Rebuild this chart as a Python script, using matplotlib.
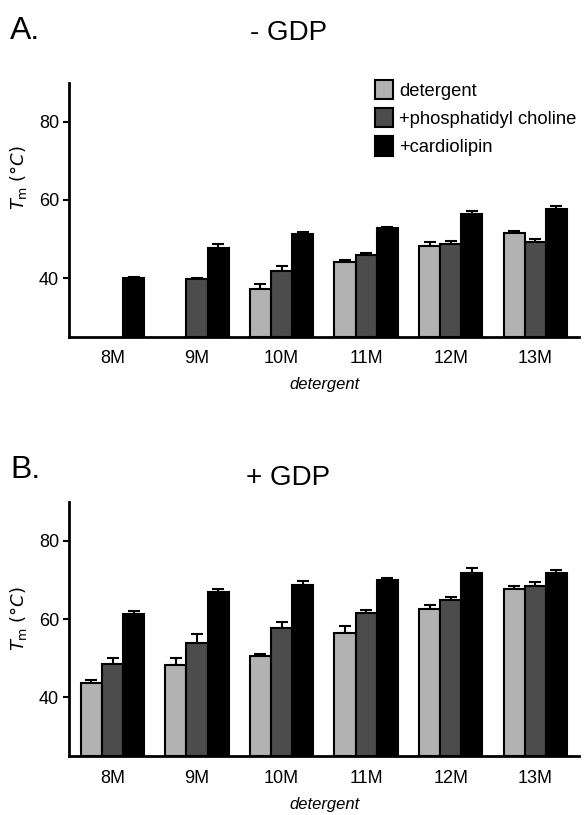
import numpy as np
import matplotlib
matplotlib.use("Agg")
import matplotlib.pyplot as plt
from matplotlib.patches import Patch

plt.rcParams['font.family'] = ['Liberation Sans', 'DejaVu Sans']

detergents = ['8M', '9M', '10M', '11M', '12M', '13M']
series = ['detergent', '+phosphatidyl choline', '+cardiolipin']
colors = ['#b2b2b2', '#4c4c4c', '#000000']

# - GDP (nan = not measured)
a_det = [np.nan, np.nan, 37.2, 44.1, 48.1, 51.4]
a_det_err = [0, 0, 1.3, 0.6, 1.0, 0.7]
a_pc = [np.nan, 39.7, 41.9, 45.9, 48.7, 49.1]
a_pc_err = [0, 0.3, 1.2, 0.6, 0.8, 0.9]
a_card = [40.1, 47.8, 51.2, 52.8, 56.4, 57.6]
a_card_err = [0.2, 0.9, 0.7, 0.2, 0.7, 0.8]

# + GDP
b_det = [43.6, 48.3, 50.5, 56.5, 62.6, 67.8]
b_det_err = [0.7, 1.7, 0.5, 1.7, 1.0, 0.7]
b_pc = [48.4, 53.9, 57.8, 61.6, 65.0, 68.4]
b_pc_err = [1.7, 2.2, 1.5, 0.8, 0.6, 1.2]
b_card = [61.2, 66.8, 68.7, 70.1, 71.9, 71.9]
b_card_err = [0.8, 1.0, 1.0, 0.5, 1.1, 0.7]


def draw(ax, vals, errs, ylab_y):
    x = np.arange(len(detergents))
    w = 0.25
    for i, (v, e) in enumerate(zip(vals, errs)):
        v = np.array(v, dtype=float)
        e = np.array(e, dtype=float)
        ok = ~np.isnan(v)
        pos = x[ok] + (i - 1) * w
        ax.bar(pos, v[ok] - 25, width=w, bottom=25, color=colors[i],
               edgecolor='black', linewidth=1.5, zorder=2)
        ax.errorbar(pos, v[ok], yerr=[np.zeros(ok.sum()), e[ok]], fmt='none',
                    ecolor='black', elinewidth=1.5, capsize=4, capthick=1.5, zorder=1)
    ax.set_xlim(-0.51, 5.52)
    ax.set_ylim(25, 90)
    ax.set_yticks([40, 60, 80])
    ax.set_xticks(x)
    ax.set_xticklabels(detergents, fontsize=13)
    ax.tick_params(axis='y', labelsize=13, length=4, width=1.5)
    ax.tick_params(axis='x', length=0, pad=10)
    for s in ['top', 'right']:
        ax.spines[s].set_visible(False)
    for s in ['left', 'bottom']:
        ax.spines[s].set_linewidth(2)
    ax.set_xlabel('detergent', fontsize=12, style='italic', labelpad=7)
    ax.set_ylabel(r'$T_{\rm m}$ $(°C)$', fontsize=13)
    ax.yaxis.set_label_coords(-0.08, ylab_y)


fig = plt.figure(figsize=(5.88, 8.15), dpi=100)
ax1 = fig.add_axes([0.118, 0.587, 0.867, 0.3115])
ax2 = fig.add_axes([0.118, 0.0724, 0.867, 0.312])

draw(ax1, [a_det, a_pc, a_card], [a_det_err, a_pc_err, a_card_err], 0.625)
draw(ax2, [b_det, b_pc, b_card], [b_det_err, b_pc_err, b_card_err], 0.54)

handles = [Patch(facecolor=c, edgecolor='black', linewidth=1.5) for c in colors]
ax1.legend(handles, series, loc='upper left', bbox_to_anchor=(0.586, 1.04),
           frameon=False, fontsize=13.2, handlelength=0.95, handleheight=1.25,
           handletextpad=0.35, labelspacing=0.45, borderaxespad=0)

fig.text(0.017, 0.962, 'A.', fontsize=23, va='center')
fig.text(0.49, 0.959, '- GDP', fontsize=20, ha='center', va='center')
fig.text(0.017, 0.423, 'B.', fontsize=23, va='center')
fig.text(0.49, 0.413, '+ GDP', fontsize=20, ha='center', va='center')

fig.savefig('out.png', dpi=100)
